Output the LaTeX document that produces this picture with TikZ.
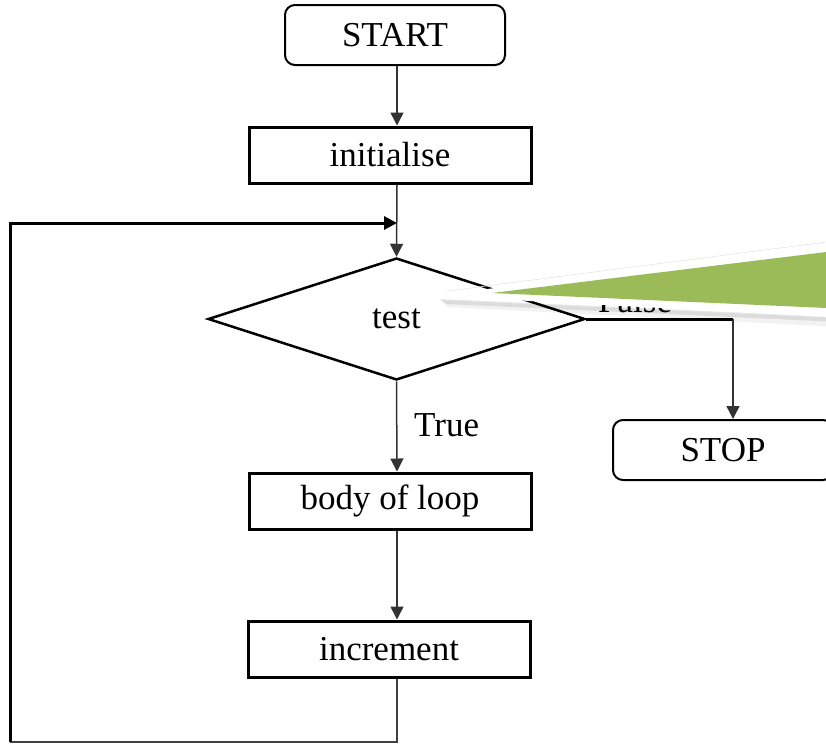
\documentclass[tikz,border=0pt]{standalone}
\usepackage{fontspec}
\setmainfont{Liberation Serif}
\usetikzlibrary{shapes.geometric,arrows.meta}
\definecolor{calloutgreen}{RGB}{155,187,89}
\begin{document}
\begin{tikzpicture}[x=1pt,y=-1pt,
  every node/.style={font=\fontsize{35}{42}\selectfont, inner sep=0pt},
  terminal/.style={draw=black, line width=2pt, rounded corners=10pt,
    minimum width=220pt, minimum height=60pt},
  procbox/.style={draw=black, line width=3pt, minimum width=282pt, minimum height=56pt},
  decision/.style={draw=black, line width=2.5pt, diamond, aspect=3,
    minimum width=377pt, minimum height=122pt},
  tip/.style={-{Triangle[width=13pt,length=13pt]}},
  flow/.style={draw=black!80, line width=1.5pt, tip},
  loopline/.style={draw=black, line width=3pt},
  lbl/.style={anchor=base west}
]
\useasboundingbox (0,0) rectangle (826,745);
\clip (0,0) rectangle (826,745);

% flowchart nodes
\node[terminal] (start) at (395,35) {START};
\node[procbox]  (init)  at (390,155) {initialise};
\node[decision] (test)  at (396.5,319) {test};
\node[procbox]  (body)  at (390,501) {body of loop};
\node[procbox]  (incr)  at (389,649) {increment};
\node[terminal] (stop)  at (723,450) {STOP};

% helper points for the loop and the false branch
\coordinate (join)  at (397,223);
\coordinate (bl)    at (10,742);
\coordinate (tl)    at (10,223);
\coordinate (fturn) at (733,319);

% main flow, all along one vertical line
\draw[flow] (start.south -| join) -- (init.north -| join);
\draw[flow] (init.south -| join) -- (test.north);
\draw[flow] (test.south) -- (body.north -| join);
\draw[flow] (body.south -| join) -- (incr.north -| join);

% loop back to the test
\draw[draw=black!75, line width=2pt] (incr.south -| join) |- (bl);
\draw[loopline, tip] (bl) -- (tl) -- (join);

% false branch
\draw[draw=black, line width=3pt] (test.east) -- (fturn);
\draw[flow] (fturn) -- (fturn |- stop.north);

% branch labels
\node[lbl] (truelbl)  at (414,436) {True};
\node[lbl] (falselbl) at (598,312) {False};

% green callout pointer with white border and soft shadow
\fill[black, opacity=0.05] (440,300) -- (840,318) -- (840,327) -- (448,307) -- cycle;
\fill[black, opacity=0.09] (440,299) -- (840,317) -- (840,322) -- (446,304) -- cycle;
\fill[white, rounded corners=5pt] (840,240.2) -- (437,296) -- (840,317.6) -- cycle;
\draw[black!10, line width=0.6pt] (446,291.2) -- (840,240.2);
\fill[calloutgreen] (492,293) -- (840,250.3) -- (840,308.6) -- cycle;
\end{tikzpicture}
\end{document}
